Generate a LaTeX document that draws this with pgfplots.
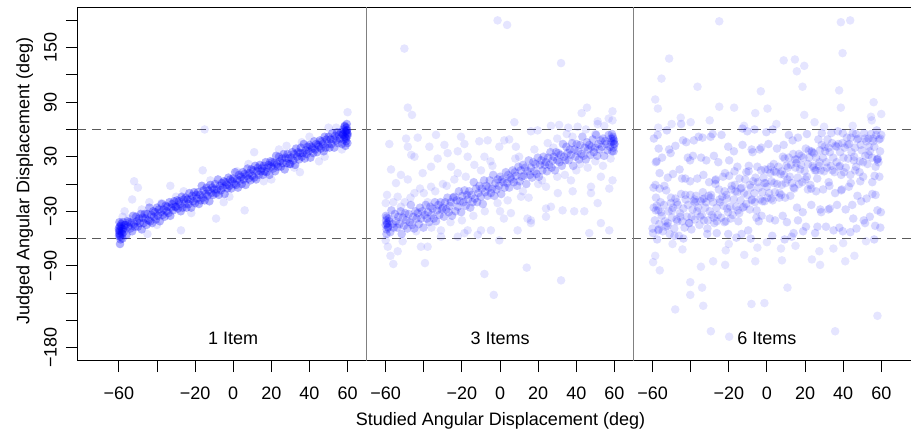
\documentclass[border=0pt]{standalone}
\usepackage{fontspec}
\setmainfont{Liberation Sans}
\usepackage{pgfplots}
\usepackage{pgfplotstable}
\pgfplotsset{compat=1.18}
\definecolor{sepgray}{RGB}{128,128,128}
\definecolor{dashgray}{RGB}{90,90,90}

% Panel 1 (1 Item): dense band
\pgfplotstableread[row sep=\\]{
x y\\
-60 -49\\ -59.5 -56\\ -59 -46\\ -58.5 -52\\ -58 -42\\ -57.5 -53\\ -57 -48\\ -56.5 -45\\ -56 -56\\ -55.5 -41\\
-55 -47\\ -54.5 -42\\ -54 -49\\ -53.5 -43\\ -53 -52\\ -52.5 -35\\ -52 -44\\ -51.5 -47\\ -51 -36\\ -50.5 -41\\
-50 -47\\ -49.5 -38\\ -49 -43\\ -48.5 -33\\ -48 -50\\ -47.5 -37\\ -47 -43\\ -46.5 -33\\ -46 -38\\ -45.5 -45\\
-45 -33\\ -44.5 -40\\ -44 -26\\ -43.5 -41\\ -43 -34\\ -42.5 -43\\ -42 -30\\ -41.5 -36\\ -41 -31\\ -40.5 -39\\
-40 -26\\ -39.5 -35\\ -39 -28\\ -38.5 -41\\ -38 -31\\ -37.5 -22\\ -37 -34\\ -36.5 -28\\ -36 -36\\ -35.5 -24\\
-35 -30\\ -34.5 -25\\ -34 -32\\ -33.5 -20\\ -33 -35\\ -32.5 -26\\ -32 -22\\ -31.5 -29\\ -31 -19\\ -30.5 -25\\
-30 -25\\ -29.5 -18\\ -29 -27\\ -28.5 -19\\ -28 -22\\ -27.5 -30\\ -27 -14\\ -26.5 -26\\ -26 -17\\ -25.5 -22\\
-25 -15\\ -24.5 -26\\ -24 -17\\ -23.5 -22\\ -23 -10\\ -22.5 -17\\ -22 -26\\ -21.5 -13\\ -21 -19\\ -20.5 -9\\
-20 -21\\ -19.5 -12\\ -19 -16\\ -18.5 -9\\ -18 -22\\ -17.5 -12\\ -17 -18\\ -16.5 -2\\ -16 -15\\ -15.5 -7\\
-15 -18\\ -14.5 -11\\ -14 -4\\ -13.5 -13\\ -13 -7\\ -12.5 -19\\ -12 -1\\ -11.5 -10\\ -11 -4\\ -10.5 -12\\
-10 -6\\ -9.5 0\\ -9 -10\\ -8.5 -6\\ -8 5\\ -7.5 -12\\ -7 -2\\ -6.5 -7\\ -6 1\\ -5.5 -4\\
-5 3\\ -4.5 -11\\ -4 2\\ -3.5 -1\\ -3 -5\\ -2.5 7\\ -2 -2\\ -1.5 5\\ -1 -5\\ -0.5 3\\
0 6\\ 0.5 0\\ 1 13\\ 1.5 -1\\ 2 5\\ 2.5 -4\\ 3 10\\ 3.5 4\\ 4 8\\ 4.5 0\\
5 13\\ 5.5 5\\ 6 11\\ 6.5 -1\\ 7 9\\ 7.5 17\\ 8 6\\ 8.5 12\\ 9 4\\ 9.5 16\\
10 9\\ 10.5 15\\ 11 7\\ 11.5 20\\ 12 5\\ 12.5 14\\ 13 18\\ 13.5 10\\ 14 21\\ 14.5 14\\
15 17\\ 15.5 10\\ 16 20\\ 16.5 14\\ 17 24\\ 17.5 13\\ 18 18\\ 18.5 21\\ 19 10\\ 19.5 25\\
20 19\\ 20.5 24\\ 21 17\\ 21.5 23\\ 22 14\\ 22.5 31\\ 23 22\\ 23.5 19\\ 24 30\\ 24.5 25\\
25 19\\ 25.5 28\\ 26 23\\ 26.5 33\\ 27 16\\ 27.5 29\\ 28 23\\ 28.5 33\\ 29 28\\ 29.5 22\\
30 22\\ 30.5 29\\ 31 35\\ 31.5 26\\ 32 33\\ 32.5 21\\ 33 39\\ 33.5 30\\ 34 35\\ 34.5 27\\
35 34\\ 35.5 40\\ 36 30\\ 36.5 34\\ 37 44\\ 37.5 28\\ 38 37\\ 38.5 33\\ 39 41\\ 39.5 36\\
40 43\\ 40.5 29\\ 41 41\\ 41.5 39\\ 42 34\\ 42.5 47\\ 43 38\\ 43.5 44\\ 44 35\\ 44.5 43\\
45 41\\ 45.5 48\\ 46 39\\ 46.5 47\\ 47 44\\ 47.5 36\\ 48 52\\ 48.5 40\\ 49 49\\ 49.5 44\\
50 52\\ 50.5 40\\ 51 49\\ 51.5 44\\ 52 56\\ 52.5 49\\ 53 40\\ 53.5 53\\ 54 48\\ 54.5 57\\
55 45\\ 55.5 54\\ 56 50\\ 56.5 57\\ 57 44\\ 57.5 54\\ 58 49\\ 58.5 64\\ 59 51\\ 59.5 59\\ 60 55\\
-59.8 -54\\ -59.6 -47\\ -59.3 -58\\ -59.9 -51\\ -58.8 -44\\ -59.1 -61\\ -58.3 -55\\ -59.7 -42\\
-57.9 -50\\ -59.4 -66\\ -58.6 -49\\ -59.9 -57\\ -57.2 -45\\ -58.1 -60\\ -59.5 -52\\
59.8 56\\ 59.5 62\\ 59.2 50\\ 59.9 45\\ 58.7 58\\ 59.6 66\\ 58.3 52\\ 59.3 47\\
57.8 60\\ 59.9 53\\ 58.9 42\\ 59.7 59\\ 57.4 55\\ 58.5 63\\ 59.1 57\\
}\PaBand

\pgfplotstableread[row sep=\\]{
x y\\
-52 3\\ -50 -4\\ -53 -17\\ -33 -2\\ -16 15\\ -15 60\\ 6 -29\\ -9 -38\\ -27.4 -51\\ 60 79\\
35 13\\ 11 35\\ -37.6 -21\\ -57 -30\\ 45 25\\ 20 5\\ -45 -55\\ 50 62\\ -5 -20\\ 28 42\\
-55 -38\\ -48 -28\\ -40 -45\\ -30 -14\\ -22 -32\\ -12 4\\ -2 -14\\ 8 22\\ 16 3\\ 24 38\\
32 18\\ 40 52\\ 48 30\\ 54 62\\ 57 38\\ -58 -36\\ -44 -20\\ 2 14\\ 36 46\\ -26 -8\\
}\PaSparse

% Panel 2 (3 Items)
\pgfplotstableread[row sep=\\]{
x y\\
-60 -45\\ -59.4 -37\\ -58.8 -48\\ -58.2 -41\\ -57.6 -53\\ -57 -29\\ -56.4 -44\\ -55.8 -48\\ -55.2 -33\\ -54.6 -41\\
-54 -48\\ -53.4 -36\\ -52.8 -44\\ -52.2 -30\\ -51.6 -55\\ -51 -37\\ -50.4 -46\\ -49.8 -32\\ -49.2 -40\\ -48.6 -49\\
-48 -33\\ -47.4 -42\\ -46.8 -23\\ -46.2 -45\\ -45.6 -36\\ -45 -49\\ -44.4 -30\\ -43.8 -38\\ -43.2 -32\\ -42.6 -44\\
-42 -26\\ -41.4 -38\\ -40.8 -30\\ -40.2 -48\\ -39.6 -34\\ -39 -23\\ -38.4 -38\\ -37.8 -31\\ -37.2 -42\\ -36.6 -25\\
-36 -34\\ -35.4 -27\\ -34.8 -38\\ -34.2 -20\\ -33.6 -41\\ -33 -29\\ -32.4 -23\\ -31.8 -34\\ -31.2 -20\\ -30.6 -28\\
-30 -26\\ -29.4 -36\\ -28.8 -20\\ -28.2 -28\\ -27.6 -15\\ -27 -31\\ -26.4 -24\\ -25.8 -20\\ -25.2 -35\\ -24.6 -15\\
-24 -14\\ -23.4 -30\\ -22.8 -18\\ -22.2 -25\\ -21.6 -8\\ -21 -19\\ -20.4 -31\\ -19.8 -13\\ -19.2 -20\\ -18.6 -7\\
-18 -24\\ -17.4 -12\\ -16.8 -17\\ -16.2 -8\\ -15.6 -26\\ -15 -12\\ -14.4 -20\\ -13.8 2\\ -13.2 -16\\ -12.6 -5\\
-12 -20\\ -11.4 -10\\ -10.8 -2\\ -10.2 -14\\ -9.6 -5\\ -9 -22\\ -8.4 4\\ -7.8 -9\\ -7.2 -2\\ -6.6 -13\\
-6 -4\\ -5.4 4\\ -4.8 -10\\ -4.2 -5\\ -3.6 10\\ -3 -13\\ -2.4 1\\ -1.8 -6\\ -1.2 5\\ -0.6 -2\\
0 8\\ 0.6 -11\\ 1.2 5\\ 1.8 2\\ 2.4 -4\\ 3 13\\ 3.6 1\\ 4.2 10\\ 4.8 -4\\ 5.4 7\\
6 5\\ 6.6 15\\ 7.2 2\\ 7.8 13\\ 8.4 9\\ 9 -2\\ 9.6 19\\ 10.2 3\\ 10.8 15\\ 11.4 8\\
12 21\\ 12.6 9\\ 13.2 18\\ 13.8 0\\ 14.4 14\\ 15 26\\ 15.6 10\\ 16.2 18\\ 16.8 7\\ 17.4 24\\
18 14\\ 18.6 22\\ 19.2 11\\ 19.8 29\\ 20.4 8\\ 21 21\\ 21.6 26\\ 22.2 15\\ 22.8 30\\ 23.4 21\\
24 24\\ 24.6 14\\ 25.2 29\\ 25.8 21\\ 26.4 35\\ 27 18\\ 27.6 26\\ 28.2 30\\ 28.8 15\\ 29.4 35\\
30 26\\ 30.6 34\\ 31.2 24\\ 31.8 32\\ 32.4 20\\ 33 44\\ 33.6 30\\ 34.2 26\\ 34.8 41\\ 35.4 34\\
36 26\\ 36.6 38\\ 37.2 32\\ 37.8 45\\ 38.4 20\\ 39 38\\ 39.6 30\\ 40.2 44\\ 40.8 36\\ 41.4 27\\
42 43\\ 42.6 33\\ 43.2 52\\ 43.8 31\\ 44.4 40\\ 45 27\\ 45.6 46\\ 46.2 38\\ 46.8 43\\ 47.4 32\\
48 41\\ 48.6 49\\ 49.2 35\\ 49.8 40\\ 50.4 54\\ 51 31\\ 51.6 44\\ 52.2 38\\ 52.8 48\\ 53.4 41\\
54 50\\ 54.6 31\\ 55.2 47\\ 55.8 44\\ 56.4 37\\ 57 54\\ 57.6 41\\ 58.2 50\\ 58.8 36\\ 59.4 47\\ 60 44\\
-59.8 -40\\ -59.5 -50\\ -59.2 -44\\ -59.9 -35\\ -58.7 -47\\ -59.6 -55\\ -58.4 -38\\ -59.3 -43\\
59.8 48\\ 59.5 40\\ 59.2 52\\ 59.9 44\\ 58.7 55\\ 59.6 36\\ 58.3 46\\ 59.3 50\\
}\PbBand

\pgfplotstableread[row sep=\\]{
x y\\
-58.1 44\\ -49.3 50\\ -43.2 51\\ -33.6 54\\ -48.4 41\\ -46.6 32\\ -44.9 30\\ -37.1 41\\ -29.2 43\\ -20.5 52\\
-18.7 44\\ -10.9 47\\ -6.5 48\\ -0.4 41\\ 2.2 48\\ 4.8 49\\ 8.3 41\\ 16.2 58\\ 19.7 59\\ 26.7 64\\
31 65\\ 35.8 62\\ 40.7 63\\ 51.2 66\\ 54.7 64\\ 59 70\\ 57 72\\ 51.2 69\\
-57.2 16\\ -52 10\\ -54.6 1\\ -48.4 5\\ -40.6 12\\ -36.2 19\\ -32.7 28\\ -27.5 34\\ -25.7 19\\ -22.2 12\\
-13.5 21\\ -17 30\\ -8.2 30\\ -22.2 36\\ -59.3 -12\\ -53.7 -14\\ -44.9 -10\\ -36.2 -3\\ -60 -21\\
5.7 -32\\ 14.4 -38\\ 16.2 -40\\ 26.7 -25\\ 24.1 -27\\ 32.8 -29\\ 38.9 -30\\ 30.3 -10\\ 38.1 -8\\ 47.7 -10\\
47.7 -3\\ 57.3 -5\\ 59 4\\ 52.9 8\\ 37.2 4\\ 24.1 -3\\ 11 -14\\ -1.3 -21\\ -4.8 -51\\ -0.4 -62\\
-10 -51\\ -18.7 -54\\ -31 -51\\ -38 -69\\ -31 -58\\ -22.2 -58\\ -17 -51\\ -11.7 -56\\ 9.2 -51\\ 16.2 -43\\
24.1 -36\\ 57.3 -51\\ 52.9 -43\\ 46.8 -54\\ 44.2 -30\\ 51.2 -21\\
-58.9 -69\\ -53.7 -74\\ -60 -62\\ -41.5 -69\\ -51.1 -63\\
-1.3 180\\ 3.7 175\\ -50.2 149\\ 32 133\\ -48.4 84\\ -46.2 76\\ -8.2 -99\\ -3.3 -122\\ 14 -92\\ 32 -106\\
-39.4 -87\\ -56 -88\\ -57.5 -79\\ 42.8 78\\ 45.6 84\\ 59 80\\ 7.5 68\\
-20 -40\\ -10 15\\ 0 -30\\ 10 30\\ 20 0\\ 30 50\\ 40 15\\ 50 25\\ -40 -10\\ -50 -20\\
-30 0\\ 15 -15\\ 35 55\\ 45 60\\ -5 25\\ 25 45\\
-56 -20\\ -52 -25\\ -47 -15\\ -42 -5\\ -38 -20\\ -34 -8\\ -28 -2\\ -24 5\\ -18 8\\ -14 -35\\
-8 -30\\ -4 20\\ 4 -18\\ 8 28\\ 12 -8\\ 18 38\\ 22 4\\ 28 40\\ 34 10\\ 38 52\\
42 22\\ 46 18\\ 50 55\\ 54 20\\ 58 28\\ -44 -52\\ -36 -48\\ -26 -42\\ 2 -38\\ 30 8\\
}\PbSparse

% Panel 3 (6 Items)
\pgfplotstableread[row sep=\\]{
x y\\
-60 -49\\ -59.4 -26\\ -58.8 -40\\ -58.2 -15\\ -57.6 -61\\ -57 -29\\ -56.4 -44\\ -55.8 -20\\ -55.2 -35\\ -54.6 -52\\
-54 -23\\ -53.4 -41\\ -52.8 -7\\ -52.2 -46\\ -51.6 -30\\ -51 -55\\ -50.4 -21\\ -49.8 -37\\ -49.2 -26\\ -48.6 -49\\
-48 -16\\ -47.4 -39\\ -46.8 -23\\ -46.2 -57\\ -45.6 -32\\ -45 -11\\ -44.4 -41\\ -43.8 -27\\ -43.2 -48\\ -42.6 -17\\
-42 -36\\ -41.4 -23\\ -40.8 -43\\ -40.2 -12\\ -39.6 -50\\ -39 -28\\ -38.4 -19\\ -37.8 -39\\ -37.2 -13\\ -36.6 -30\\
-36 -26\\ -35.4 -45\\ -34.8 -19\\ -34.2 -34\\ -33.6 -9\\ -33 -40\\ -32.4 -26\\ -31.8 -20\\ -31.2 -49\\ -30.6 -13\\
-30 -30\\ -29.4 -15\\ -28.8 -34\\ -28.2 -20\\ -27.6 -43\\ -27 0\\ -26.4 -26\\ -25.8 -34\\ -25.2 -6\\ -24.6 -20\\
-24 -37\\ -23.4 -14\\ -22.8 -24\\ -22.2 -8\\ -21.6 -41\\ -21 -16\\ -20.4 -31\\ -19.8 9\\ -19.2 -25\\ -18.6 -6\\
-18 -34\\ -17.4 -17\\ -16.8 -1\\ -16.2 -25\\ -15.6 -9\\ -15 -41\\ -14.4 6\\ -13.8 -18\\ -13.2 -4\\ -12.6 -26\\
-12 -10\\ -11.4 5\\ -10.8 -22\\ -10.2 -12\\ -9.6 14\\ -9 -28\\ -8.4 -4\\ -7.8 -17\\ -7.2 3\\ -6.6 -10\\
-6 7\\ -5.4 -29\\ -4.8 2\\ -4.2 -4\\ -3.6 -17\\ -3 15\\ -2.4 -9\\ -1.8 7\\ -1.2 -19\\ -0.6 1\\
0 -3\\ 0.6 16\\ 1.2 -10\\ 1.8 12\\ 2.4 3\\ 3 -18\\ 3.6 22\\ 4.2 -9\\ 4.8 13\\ 5.4 0\\
6 19\\ 6.6 -10\\ 7.2 11\\ 7.8 -1\\ 8.4 30\\ 9 10\\ 9.6 -15\\ 10.2 20\\ 10.8 5\\ 11.4 29\\
12 8\\ 12.6 21\\ 13.2 1\\ 13.8 33\\ 14.4 -5\\ 15 18\\ 15.6 27\\ 16.2 7\\ 16.8 33\\ 17.4 16\\
18 21\\ 18.6 2\\ 19.2 29\\ 19.8 14\\ 20.4 39\\ 21 8\\ 21.6 22\\ 22.2 29\\ 22.8 -1\\ 23.4 36\\
24 20\\ 24.6 34\\ 25.2 15\\ 25.8 29\\ 26.4 6\\ 27 49\\ 27.6 24\\ 28.2 15\\ 28.8 43\\ 29.4 29\\
30 14\\ 30.6 36\\ 31.2 24\\ 31.8 49\\ 32.4 2\\ 33 35\\ 33.6 20\\ 34.2 45\\ 34.8 29\\ 35.4 13\\
36 42\\ 36.6 24\\ 37.2 58\\ 37.8 19\\ 38.4 35\\ 39 10\\ 39.6 45\\ 40.2 29\\ 40.8 40\\ 41.4 18\\
42 51\\ 42.6 28\\ 43.2 44\\ 43.8 10\\ 44.4 35\\ 45 56\\ 45.6 26\\ 46.2 40\\ 46.8 19\\ 47.4 49\\
48 50\\ 48.6 13\\ 49.2 43\\ 49.8 37\\ 50.4 24\\ 51 56\\ 51.6 31\\ 52.2 47\\ 52.8 22\\ 53.4 41\\
54 36\\ 54.6 55\\ 55.2 29\\ 55.8 50\\ 56.4 41\\ 57 19\\ 57.6 59\\ 58.2 28\\ 58.8 49\\ 59.4 36\\ 60 54\\
-59.8 -54\\ -56.8 -50\\ -58.3 -29\\ -57.8 -24\\ -59.5 -4\\ -56.3 -5\\ -56.3 12\\ -57.8 25\\ -58.3 24\\ -59.3 50\\ -57.3 54\\
-57 -51\\ -53 -47\\ -55.5 -31\\ -49.8 -29\\ -53.8 -2\\ -58.5 -1\\ -52 7\\ -55 29\\ -50.5 34\\ -56.8 39\\ -52.5 59\\
-48.5 -57\\ -45.5 -36\\ -52 -43\\ -47.3 -20\\ -50.3 -15\\ -42.8 6\\ -49.3 11\\ -45.8 16\\ -51.3 38\\ -48 42\\ -45 66\\
-43.8 -60\\ -40.8 -43\\ -47 -41\\ -38 -17\\ -42.8 -12\\ -40.3 3\\ -44.5 6\\ -41.5 29\\ -38.8 31\\ -44 48\\ -42.3 46\\
-31.3 -55\\ -39.5 -36\\ -35 -36\\ -37.5 -20\\ -33.8 -17\\ -36.5 6\\ -33.3 10\\ -40.3 26\\ -34.5 29\\ -35.8 52\\ -38.3 48\\
-26.3 -54\\ -31 -40\\ -28 -37\\ -33 -16\\ -29.3 -12\\ -30.3 2\\ -26.8 5\\ -31.8 26\\ -27.8 31\\ -29.5 52\\ -33.8 51\\
-20.3 -55\\ -26.3 -41\\ -22.3 -42\\ -24.8 -17\\ -21.3 -12\\ -27 4\\ -23 8\\ -25.5 24\\ -19.8 26\\ -23.8 54\\ -28.5 55\\
-16 -59\\ -19 -38\\ -14.5 -32\\ -20.8 -27\\ -16.5 -8\\ -18.5 -2\\ -15.5 19\\ -22 12\\ -17.3 36\\ -20.3 41\\ -12.8 61\\
-13.3 -55\\ -9.8 -51\\ -15.3 -29\\ -12 -25\\ -9 -1\\ -13.8 -5\\ -10.8 13\\ -17 14\\ -8 38\\ -12.8 43\\ -10.3 58\\
-8.5 -60\\ -5.5 -37\\ -2.8 -35\\ -8 -18\\ -6.3 -20\\ -1.3 1\\ -9.5 20\\ -5 19\\ -7.5 35\\ -3.8 38\\ -6.5 60\\
2.8 -57\\ -4.3 -41\\ 1.5 -38\\ 0.3 -15\\ -2.3 -19\\ 3.8 1\\ -1 16\\ 2 19\\ -3 40\\ 0.8 44\\ -0.3 57\\
9.3 -61\\ 4.3 -40\\ 8.3 -35\\ 6.5 -15\\ 2.3 -16\\ 9.8 1\\ 3.8 14\\ 7.8 14\\ 5.3 39\\ 8.8 43\\ 3 60\\
13 -58\\ 10.5 -42\\ 16.3 -40\\ 12.3 -13\\ 7.5 -12\\ 14 -4\\ 11 18\\ 15.5 23\\ 9.3 28\\ 13.5 48\\ 11.5 54\\
20.5 -47\\ 14 -54\\ 18.8 -31\\ 15.8 -26\\ 23.3 -5\\ 16.8 0\\ 20.3 5\\ 14.8 27\\ 18 31\\ 21 55\\ 16.3 51\\
25.3 -54\\ 19 -52\\ 28 -28\\ 23.3 -23\\ 25.8 -8\\ 21.5 -6\\ 24.5 18\\ 27.3 20\\ 22 37\\ 23.8 35\\ 28.8 56\\
26.5 -47\\ 31 -47\\ 28.5 -31\\ 32.3 -28\\ 29.5 -6\\ 32.8 -2\\ 25.8 15\\ 31.5 18\\ 30.3 41\\ 27.8 37\\ 33.8 56\\
35 -51\\ 38 -48\\ 33 -27\\ 36.8 -23\\ 35.8 -10\\ 39.3 -6\\ 34.3 15\\ 38.3 20\\ 36.5 41\\ 32.3 40\\ 39.8 56\\
39.8 -52\\ 43.8 -53\\ 41.3 -28\\ 44.8 -23\\ 39 -7\\ 43 -3\\ 40.5 13\\ 46.3 15\\ 42.3 43\\ 37.5 44\\ 44 51\\
47 -49\\ 51.5 -43\\ 45.3 -38\\ 49.5 -19\\ 47.5 -13\\ 50.5 8\\ 44 1\\ 48.8 25\\ 45.8 30\\ 53.3 50\\ 46.8 55\\
56.3 -61\\ 50.8 -40\\ 54 -36\\ 57 -12\\ 52.3 -16\\ 55.3 2\\ 49 3\\ 58 27\\ 53.3 32\\ 55.8 47\\ 51.5 50\\
59.5 -48\\ 56.8 -46\\ 58 -29\\ 59.8 -31\\ 55.3 -11\\ 56.5 9\\ 59 8\\ 58.5 24\\ 57.8 27\\ 59.5 50\\ 57.3 54\\
}\PcBand

\pgfplotstableread[row sep=\\]{
x y\\
-25 179\\ 38.8 178\\ 43.7 180\\ -51.3 138\\ -55.3 116\\ 8.8 136\\ 14.7 137\\ 15.7 124\\ 19.6 130\\ 39.7 144\\
-36.4 107\\ 18.7 107\\ 37.9 103\\ -3.2 102\\ -58.6 93\\ -57.2 83\\ -25 85\\ -17.2 84\\ 0.3 83\\ 56 90\\
38.8 84\\ -45.2 73\\ -6.1 78\\ 19.6 76\\ 54.6 74\\ 60 77\\
-56.2 -95\\ -59.7 -86\\ -58.6 -79\\ -40.2 -108\\ -40.2 -122\\ -34 -114\\ -48.1 -138\\ -33.4 -134\\ -29.4 -162\\ -19.8 -168\\
-8.1 -132\\ -1.3 -131\\ 10.8 -114\\ 35.8 -162\\ 58 -145\\ -34.6 -91\\ -28.2 -85\\ -21.9 -89\\ -11.9 -78\\ -6.1 -85\\
7.9 -84\\ 23.6 -83\\ 27.9 -89\\ 41.1 -85\\ 45.9 -79\\ 34.9 -71\\ 27.5 -74\\ 7.4 -71\\ -21.6 -73\\ -44.3 -72\\ -49.5 -66\\
-50 66\\ -40 68\\ -30 70\\ -12 64\\ 5 66\\ 25 68\\ 45 64\\ 55 70\\ -57 62\\ 30 63\\
-20 -66\\ 0 -64\\ 15 -68\\ 40 -65\\ 52 -63\\ -5 -70\\
}\PcSparse

\begin{document}
\begin{tikzpicture}[x=1bp,y=1bp,font=\fontsize{18.07}{21.7}\selectfont]
\useasboundingbox (0,0) rectangle (911,431);
\begin{axis}[
  at={(77.3bp,70.3bp)}, anchor=south west, scale only axis,
  width=835.2bp, height=353.4bp,
  xmin=-81.8, xmax=356.4, ymin=-194.4, ymax=194.4,
  axis line style={black, line width=0.9bp},
  xtick={-60,-40,...,340},
  xticklabels={−60,,−20,0,20,40,60,−60,,−20,0,20,40,60,−60,,−20,0,20,40,60},
  ytick={-180,-150,...,180},
  yticklabels={−180,,,−90,,−30,,30,,90,,150,},
  tick align=outside, xtick pos=bottom, ytick pos=left,
  major tick length=11.5bp,
  every tick/.style={black, line width=0.9bp},
  xticklabel style={anchor=base, inner sep=0pt, yshift=-27.5bp},
  yticklabel style={rotate=90, anchor=base, inner sep=0pt, yshift=9.2bp},
  mark size=4.3bp,
  pts/.style={only marks, mark=*, mark options={draw=blue, fill=blue, draw opacity=0, line width=0pt, fill opacity=#1}},
]
% Panel 1
\addplot[pts=0.3] table {\PaBand};
\addplot[pts=0.1] table {\PaSparse};
% Panel 2
\addplot[pts=0.22] table[x expr=\thisrow{x}+140] {\PbBand};
\addplot[pts=0.1] table[x expr=\thisrow{x}+140] {\PbSparse};
% Panel 3
\addplot[pts=0.15] table[x expr=\thisrow{x}+280] {\PcBand};
\addplot[pts=0.1] table[x expr=\thisrow{x}+280] {\PcSparse};
% reference lines
\addplot[dashgray, line width=0.9bp, dash pattern=on 9bp off 6bp] coordinates {(-81.8,60) (356.4,60)};
\addplot[dashgray, line width=0.9bp, dash pattern=on 9bp off 6bp] coordinates {(-81.8,-60) (356.4,-60)};
\addplot[sepgray, line width=1.6bp] coordinates {(70,-194.4) (70,194.4)};
\addplot[sepgray, line width=1.6bp] coordinates {(210,-194.4) (210,194.4)};
\node[anchor=base, inner sep=0pt] at (axis cs:0,-177) {1 Item};
\node[anchor=base, inner sep=0pt] at (axis cs:140,-177) {3 Items};
\node[anchor=base, inner sep=0pt] at (axis cs:280,-177) {6 Items};
\end{axis}
\node[rotate=90, anchor=base, inner sep=0pt] at (29.3,250) {Judged Angular Displacement (deg)};
\node[anchor=base, inner sep=0pt] at (500.5,5.3) {Studied Angular Displacement (deg)};
\end{tikzpicture}
\end{document}
